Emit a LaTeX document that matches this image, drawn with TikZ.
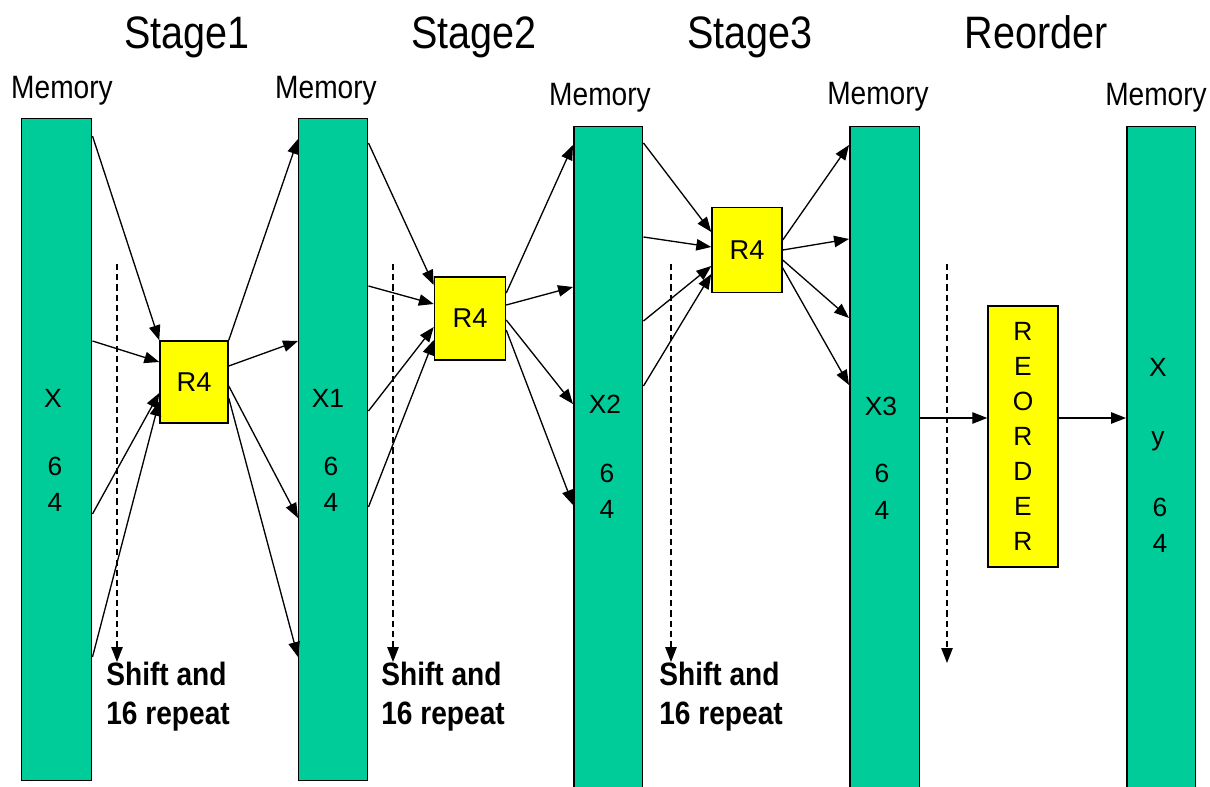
\documentclass[tikz,border=0pt]{standalone}
\usepackage{fontspec}
\usepackage{graphicx}
\setmainfont{Liberation Sans}
\usetikzlibrary{arrows.meta,calc}
\definecolor{barGreen}{RGB}{0,204,153}
\definecolor{boxYellow}{RGB}{255,255,0}
\newcommand{\tallText}[1]{\scalebox{1}[1.15]{#1}}
\begin{document}
\begin{tikzpicture}[x=0.02cm,y=-0.02cm,
  bar/.style={draw=black,line width=0.85pt,fill=barGreen,inner sep=0pt,anchor=north west,minimum width=1.38cm},
  ybox/.style={draw=black,line width=0.85pt,fill=boxYellow,inner sep=0pt,font=\fontsize{15.5}{18}\selectfont},
  arr/.style={line width=0.75pt,-{Triangle[length=8.5pt,width=6.5pt]}},
  darr/.style={line width=0.75pt,dash pattern=on 3.5pt off 2.3pt,-{Triangle[length=8.5pt,width=6.5pt]}},
  stagelbl/.style={font=\fontsize{22.5}{26}\selectfont,anchor=base},
  memlbl/.style={font=\fontsize{16}{19}\selectfont,anchor=base},
  barlbl/.style={font=\fontsize{15}{18}\selectfont,inner sep=0pt},
  shiftlbl/.style={font=\bfseries\fontsize{16}{21}\selectfont,align=left,anchor=north west,inner sep=0pt}]
\useasboundingbox (0,0) rectangle (1210,787);

% stage titles
\node[stagelbl] (s1) at (187,49) {\tallText{Stage1}};
\node[stagelbl] (s2) at (474,49) {\tallText{Stage2}};
\node[stagelbl] (s3) at (750,49) {\tallText{Stage3}};
\node[stagelbl] (s4) at (1036,49) {\tallText{Reorder}};

% memory labels
\node[memlbl] (mem0) at (62,99) {\tallText{Memory}};
\node[memlbl] (mem1) at (326,99) {\tallText{Memory}};
\node[memlbl] (mem2) at (600,106) {\tallText{Memory}};
\node[memlbl] (mem3) at (878,105) {\tallText{Memory}};
\node[memlbl] (mem4) at (1156,106) {\tallText{Memory}};

% memory bars
\node[bar,minimum width=1.40cm,minimum height=13.24cm] (m0) at (21,118) {};
\node[bar,minimum height=13.24cm] (m1) at (298,118) {};
\node[bar,minimum height=13.30cm] (m2) at (573,126) {};
\node[bar,minimum width=1.40cm,minimum height=13.30cm] (m3) at (849,126) {};
\node[bar,minimum height=13.30cm] (m4) at (1126,126) {};

% bar texts
\node[barlbl] (t0a) at (53,398) {X};
\node[barlbl] (t0b) at (55,466) {6};
\node[barlbl] (t0c) at (55,502) {4};
\node[barlbl] (t1a) at (328,398) {X1};
\node[barlbl] (t1b) at (331,466) {6};
\node[barlbl] (t1c) at (331,502) {4};
\node[barlbl] (t2a) at (605,404) {X2};
\node[barlbl] (t2b) at (607,473) {6};
\node[barlbl] (t2c) at (607,509) {4};
\node[barlbl] (t3a) at (881,406) {X3};
\node[barlbl] (t3b) at (882,473) {6};
\node[barlbl] (t3c) at (882,510) {4};
\node[barlbl] (t4a) at (1158,367) {X};
\node[barlbl] (t4b) at (1158,441) {y};
\node[barlbl] (t4c) at (1160,507) {6};
\node[barlbl] (t4d) at (1160,543) {4};

% R4 boxes
\node[ybox,minimum width=1.36cm,minimum height=1.64cm] (r1) at (194,382) {R4};
\node[ybox,minimum width=1.42cm,minimum height=1.66cm] (r2) at (470,318.5) {R4};
\node[ybox,minimum width=1.40cm,minimum height=1.70cm] (r3) at (747,250) {R4};
\node[ybox,minimum width=1.40cm,minimum height=5.22cm,align=center,font=\fontsize{15}{20}\selectfont] (ro) at (1023,436.5) {R\\E\\O\\R\\D\\E\\R};

% dashed shift arrows
\coordinate (d1s) at (117,264); \coordinate (d1e) at (117,662);
\coordinate (d2s) at (393,264); \coordinate (d2e) at (393,662);
\coordinate (d3s) at (671,264); \coordinate (d3e) at (671,662);
\coordinate (d4s) at (947,264); \coordinate (d4e) at (947,663);
\draw[darr] (d1s) -- (d1e);
\draw[darr] (d2s) -- (d2e);
\draw[darr] (d3s) -- (d3e);
\draw[darr] (d4s) -- (d4e);

% stage 1
\draw[arr] (m0.east |- 0,136) -- (r1.north west);
\draw[arr] (m0.east |- 0,341) -- (r1.west |- 0,362);
\draw[arr] (m0.east |- 0,514) -- (r1.west |- 0,393);
\draw[arr] (m0.east |- 0,657) -- (r1.west |- 0,401);
\draw[arr] (r1.north east) -- (m1.west |- 0,139);
\draw[arr] (r1.east |- 0,366) -- (m1.west |- 0,341);
\draw[arr] (r1.east |- 0,386) -- (m1.west |- 0,518);
\draw[arr] (r1.east |- 0,398) -- (m1.west |- 0,657);

% stage 2
\draw[arr] (m1.east |- 0,143) -- (r2.west |- 0,285);
\draw[arr] (m1.east |- 0,286) -- (r2.west |- 0,304);
\draw[arr] (m1.east |- 0,411) -- (r2.west |- 0,327);
\draw[arr] (m1.east |- 0,507) -- (r2.west |- 0,340);
\draw[arr] (r2.east |- 0,293) -- (m2.west |- 0,145);
\draw[arr] (r2.east |- 0,305) -- (m2.west |- 0,287);
\draw[arr] (r2.east |- 0,320) -- (m2.west |- 0,404);
\draw[arr] (r2.east |- 0,330) -- (m2.west |- 0,505);

% stage 3
\draw[arr] (m2.east |- 0,143) -- (r3.west |- 0,232);
\draw[arr] (m2.east |- 0,237) -- (r3.west |- 0,247);
\draw[arr] (m2.east |- 0,321) -- (r3.west |- 0,266);
\draw[arr] (m2.east |- 0,386) -- (r3.west |- 0,274);
\draw[arr] (r3.east |- 0,240) -- (m3.west |- 0,145);
\draw[arr] (r3.east |- 0,250) -- (m3.west |- 0,239);
\draw[arr] (r3.east |- 0,260) -- (m3.west |- 0,318);
\draw[arr] (r3.east |- 0,268) -- (m3.west |- 0,385);

% reorder
\draw[arr] (m3.east |- 0,418) -- (ro.west |- 0,418);
\draw[arr] (ro.east |- 0,418) -- (m4.west |- 0,418);

% shift labels
\node[shiftlbl] (sh1) at (106,662) {\tallText{Shift and}\\[1pt]\tallText{16 repeat}};
\node[shiftlbl] (sh2) at (381,662) {\tallText{Shift and}\\[1pt]\tallText{16 repeat}};
\node[shiftlbl] (sh3) at (659,662) {\tallText{Shift and}\\[1pt]\tallText{16 repeat}};
\end{tikzpicture}
\end{document}
